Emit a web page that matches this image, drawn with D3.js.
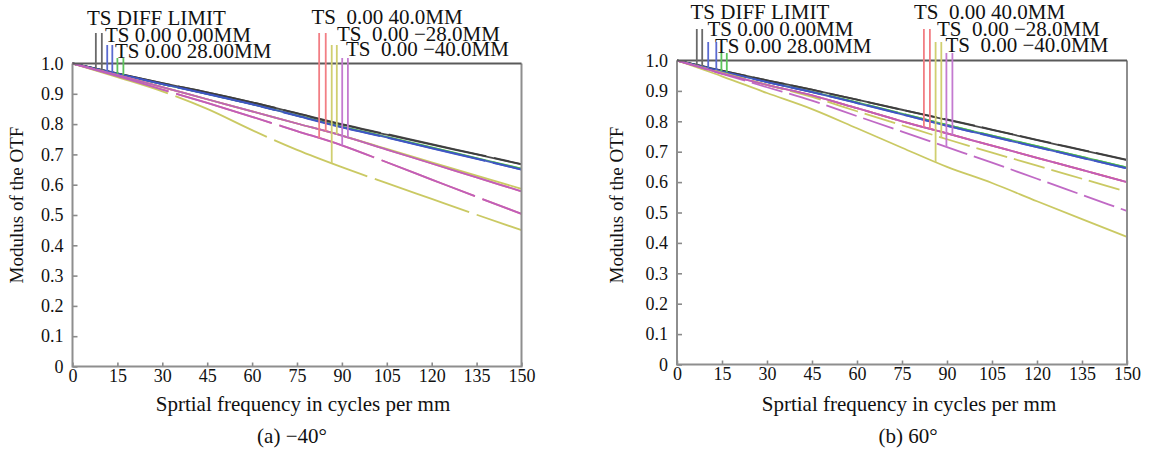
<!DOCTYPE html>
<html>
<head>
<meta charset="utf-8">
<script src="https://cdn.jsdelivr.net/npm/d3@7"></script>
<style>
  html, body { margin: 0; padding: 0; background: #fff; }
  svg { display: block; font-family: "Liberation Serif", "Times New Roman", serif; }
</style>
</head>
<body>
<svg id="chart" width="1159" height="449"></svg>
<script>
// Spatial frequencies (cycles/mm) at which each MTF curve is sampled
const freq = [0, 15, 30, 45, 60, 75, 90, 105, 120, 135, 150];
const freqTicks = [0, 15, 30, 45, 60, 75, 90, 105, 120, 135, 150];
const mtfTicks = [0, 0.1, 0.2, 0.3, 0.4, 0.5, 0.6, 0.7, 0.8, 0.9, 1.0];

// Field legend labels (T = tangential, S = sagittal)
const fieldLabels = ["TS DIFF LIMIT", "TS 0.00 0.00MM", "TS 0.00 28.00MM",
                     "TS  0.00 40.0MM", "TS  0.00 \u221228.0MM", "TS  0.00 \u221240.0MM"];
const fieldKeys = ["diff", "f0", "f28", "f40", "fm28", "fm40"];

// (a) -40 degrees
const a_diffT = [1, 0.967, 0.935, 0.905, 0.872, 0.835, 0.798, 0.765, 0.732, 0.700, 0.667];
const a_diffS = [1, 0.967, 0.935, 0.905, 0.872, 0.836, 0.800, 0.767, 0.734, 0.701, 0.668];
const a_f0T   = [1, 0.966, 0.932, 0.900, 0.866, 0.828, 0.790, 0.756, 0.721, 0.686, 0.650];
const a_f0S   = [1, 0.966, 0.932, 0.899, 0.865, 0.827, 0.789, 0.755, 0.720, 0.685, 0.650];
const a_f28T  = [1, 0.966, 0.932, 0.900, 0.866, 0.829, 0.792, 0.758, 0.723, 0.688, 0.653];
const a_f28S  = [1, 0.966, 0.932, 0.900, 0.866, 0.828, 0.791, 0.757, 0.722, 0.687, 0.652];
const a_f40T  = [1, 0.962, 0.922, 0.882, 0.842, 0.802, 0.762, 0.716, 0.670, 0.624, 0.578];
const a_f40S  = [1, 0.958, 0.914, 0.870, 0.824, 0.777, 0.730, 0.674, 0.617, 0.560, 0.504];
const a_fm28T = [1, 0.962, 0.922, 0.882, 0.842, 0.802, 0.762, 0.718, 0.674, 0.630, 0.586];
const a_fm28S = [1, 0.955, 0.908, 0.850, 0.780, 0.715, 0.658, 0.605, 0.553, 0.501, 0.450];
const a_fm40T = [1, 0.962, 0.922, 0.882, 0.842, 0.802, 0.762, 0.716, 0.670, 0.624, 0.578];
const a_fm40S = [1, 0.958, 0.914, 0.870, 0.824, 0.777, 0.730, 0.674, 0.617, 0.560, 0.504];
// frequency at which each legend marker meets its curve
const a_legendT = [7.8, 11.6, 15.0, 84.6, 88.3, 92.0];
const a_legendS = [9.8, 13.3, 17.0, 82.4, 86.6, 90.1];

// (b) 60 degrees
const b_diffT = [1, 0.967, 0.935, 0.904, 0.871, 0.838, 0.805, 0.772, 0.738, 0.705, 0.672];
const b_diffS = [1, 0.967, 0.935, 0.904, 0.871, 0.838, 0.806, 0.773, 0.739, 0.706, 0.673];
const b_f0T   = [1, 0.964, 0.929, 0.896, 0.860, 0.823, 0.785, 0.750, 0.715, 0.680, 0.645];
const b_f0S   = [1, 0.964, 0.929, 0.896, 0.860, 0.823, 0.785, 0.750, 0.715, 0.680, 0.645];
const b_f28T  = [1, 0.965, 0.930, 0.897, 0.862, 0.825, 0.788, 0.753, 0.718, 0.683, 0.648];
const b_f28S  = [1, 0.965, 0.930, 0.897, 0.862, 0.825, 0.788, 0.753, 0.718, 0.683, 0.648];
const b_f40T  = [1, 0.958, 0.920, 0.885, 0.843, 0.800, 0.760, 0.720, 0.680, 0.640, 0.600];
const b_f40S  = [1, 0.958, 0.920, 0.885, 0.843, 0.800, 0.760, 0.720, 0.680, 0.640, 0.600];
const b_fm28T = [1, 0.948, 0.893, 0.840, 0.777, 0.713, 0.650, 0.597, 0.537, 0.478, 0.420];
const b_fm28S = [1, 0.960, 0.920, 0.880, 0.833, 0.787, 0.741, 0.697, 0.654, 0.611, 0.568];
const b_fm40T = [1, 0.958, 0.920, 0.885, 0.843, 0.800, 0.760, 0.720, 0.680, 0.640, 0.600];
const b_fm40S = [1, 0.956, 0.912, 0.868, 0.817, 0.766, 0.715, 0.664, 0.611, 0.558, 0.505];
const b_legendT = [6.6, 10.4, 14.8, 82.3, 86.2, 91.8];
const b_legendS = [8.4, 13.1, 16.6, 84.3, 88.1, 89.8];

const panelTitles = ["(a) \u221240\u00b0", "(b) 60\u00b0"];

// ---- presentation ----
const fieldColor = {
  diff: "#3c3c3c", f0: "#3f55c4", f28: "#48b848",
  f40: "#ee6670", fm28: "#c6c456", fm40: "#bb5cc0"
};
const legendColor = {
  diff: "#6a6a6a", f0: "#5a6ad0", f28: "#5cc45c",
  f40: "#f27e84", fm28: "#d0cf70", fm40: "#c47ad0"
};
// drawing order: hidden fields first
const drawOrder = ["f28", "diff", "f0", "f40", "fm28", "fm40"];

const panels = [
  {
    x0: 72.5, x1: 521.5, yTop: 63.5, yBot: 366.5, dash: "100,8",
    series: {
      diff: [a_diffT, a_diffS], f0: [a_f0T, a_f0S], f28: [a_f28T, a_f28S],
      f40: [a_f40T, a_f40S], fm28: [a_fm28T, a_fm28S], fm40: [a_fm40T, a_fm40S]
    },
    legendT: a_legendT, legendS: a_legendS,
    legendText: [[87, 25], [105, 41.5], [115, 58], [311.5, 24], [337, 40.5], [346, 56]],
    legendTop: [33, 45, 58, 33, 45, 58],
    ytitleX: 16, ytitleY: 205, xtitleX: 303, subX: 292, title: panelTitles[0]
  },
  {
    x0: 677, x1: 1127, yTop: 60.5, yBot: 364.5, dash: "32,7",
    series: {
      diff: [b_diffT, b_diffS], f0: [b_f0T, b_f0S], f28: [b_f28T, b_f28S],
      f40: [b_f40T, b_f40S], fm28: [b_fm28T, b_fm28S], fm40: [b_fm40T, b_fm40S]
    },
    legendT: b_legendT, legendS: b_legendS,
    legendText: [[690.5, 19], [707.5, 36], [715, 52.5], [914, 18.5], [937, 35.5], [945.5, 51.5]],
    legendTop: [29, 42, 53, 29, 42, 53],
    ytitleX: 616, ytitleY: 205, xtitleX: 909, subX: 908, title: panelTitles[1]
  }
];

const svg = d3.select("#chart");
svg.append("rect").attr("width", 1159).attr("height", 449).attr("fill", "#fff");

const fmtMtf = v => v === 0 ? "0" : d3.format(".1f")(v);

panels.forEach(p => {
  const g = svg.append("g");
  const x = d3.scaleLinear().domain([0, 150]).range([p.x0, p.x1]);
  const y = d3.scaleLinear().domain([0, 1]).range([p.yBot, p.yTop]);

  // axes with inward ticks
  const yAxis = d3.axisLeft(y).tickValues(mtfTicks).tickFormat(fmtMtf)
    .tickSizeInner(-5).tickSizeOuter(0).tickPadding(9);
  const yg = g.append("g").attr("transform", `translate(${p.x0},0)`).call(yAxis);
  const xAxis = d3.axisBottom(x).tickValues(freqTicks).tickFormat(d3.format("d"))
    .tickSizeInner(-4).tickSizeOuter(0).tickPadding(3);
  const xg = g.append("g").attr("transform", `translate(0,${p.yBot})`).call(xAxis);
  [yg, xg].forEach(ax => {
    ax.select(".domain").remove();
    ax.selectAll(".tick line").attr("stroke", "#8a8a8a").attr("stroke-width", 1.6);
    ax.selectAll(".tick text").attr("fill", "#111").attr("font-size", 18)
      .attr("font-family", "Liberation Serif, Times New Roman, serif");
  });

  // curves
  const line = d3.line().x((d, i) => x(freq[i])).y(d => y(d)).curve(d3.curveMonotoneX);
  const curves = g.append("g").attr("fill", "none").attr("stroke-width", 1.8)
    .attr("stroke-linejoin", "round");
  drawOrder.forEach(k => {
    const [tVals, sVals] = p.series[k];
    curves.append("path").attr("d", line(tVals)).attr("stroke", fieldColor[k])
      .attr("stroke-opacity", 0.92);
    curves.append("path").attr("d", line(sVals)).attr("stroke", fieldColor[k])
      .attr("stroke-opacity", 0.92).attr("stroke-dasharray", p.dash);
  });

  // frame
  const frame = g.append("g").attr("fill", "none");
  frame.append("path")
    .attr("d", `M${p.x0},${p.yTop}V${p.yBot}H${p.x1}V${p.yTop}`)
    .attr("stroke", "#8e8e8e").attr("stroke-width", 2);
  frame.append("line").attr("x1", p.x0).attr("x2", p.x1)
    .attr("y1", p.yTop).attr("y2", p.yTop)
    .attr("stroke", "#5a5a5a").attr("stroke-width", 2);

  // legend markers: a vertical line from each label down to its curve
  const lg = g.append("g").attr("stroke-width", 1.8);
  fieldKeys.forEach((k, i) => {
    const [tVals, sVals] = p.series[k];
    [[p.legendT[i], tVals], [p.legendS[i], sVals]].forEach(([f, vals]) => {
      const at = d3.scaleLinear().domain(freq).range(vals);
      lg.append("line")
        .attr("x1", x(f)).attr("x2", x(f))
        .attr("y1", p.legendTop[i]).attr("y2", y(at(f)))
        .attr("stroke", legendColor[k]);
    });
  });
  fieldLabels.forEach((t, i) => {
    g.append("text").attr("x", p.legendText[i][0]).attr("y", p.legendText[i][1])
      .attr("font-size", 21).attr("fill", "#111").style("white-space", "pre")
      .text(t);
  });

  // titles
  g.append("text").attr("transform", `translate(${p.ytitleX},${p.ytitleY}) rotate(-90)`)
    .attr("text-anchor", "middle").attr("dominant-baseline", "central")
    .attr("font-size", 19).attr("fill", "#111").text("Modulus of the OTF");
  g.append("text").attr("x", p.xtitleX).attr("y", 411)
    .attr("text-anchor", "middle").attr("font-size", 21).attr("fill", "#111")
    .text("Sprtial frequency in cycles per mm");
  g.append("text").attr("x", p.subX).attr("y", 443)
    .attr("text-anchor", "middle").attr("font-size", 21).attr("fill", "#111")
    .text(p.title);
});
</script>
</body>
</html>
